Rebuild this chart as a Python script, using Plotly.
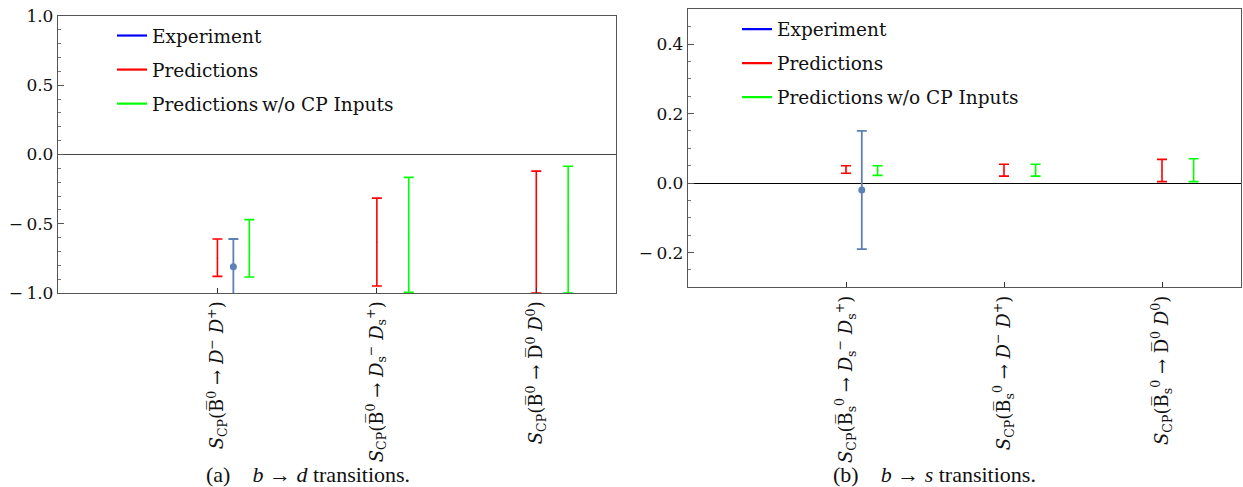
import plotly.graph_objects as go

# ---------------- data ----------------
cats_d = [
    "<i>S</i><sub>CP</sub>(B\u0305<sup>0</sup> \u2192 <i>D</i><sup>\u2212</sup> <i>D</i><sup>+</sup>)",
    "<i>S</i><sub>CP</sub>(B\u0305<sup>0</sup> \u2192 <i>D</i><sub>s</sub><sup>\u2212</sup> <i>D</i><sub>s</sub><sup>+</sup>)",
    "<i>S</i><sub>CP</sub>(B\u0305<sup>0</sup> \u2192 D\u0305<sup>0</sup> <i>D</i><sup>0</sup>)",
]
pred_d_lo = [-0.88, -0.95, -1.00]
pred_d_hi = [-0.61, -0.315, -0.12]
nocp_d_lo = [-0.885, -0.995, -1.00]
nocp_d_hi = [-0.47, -0.165, -0.085]
exp_d_cat = [0]
exp_d_val = [-0.81]
exp_d_err = [0.20]

cats_s = [
    "<i>S</i><sub>CP</sub>(B\u0305<sub>s</sub><sup>0</sup> \u2192 <i>D</i><sub>s</sub><sup>\u2212</sup> <i>D</i><sub>s</sub><sup>+</sup>)",
    "<i>S</i><sub>CP</sub>(B\u0305<sub>s</sub><sup>0</sup> \u2192 <i>D</i><sup>\u2212</sup> <i>D</i><sup>+</sup>)",
    "<i>S</i><sub>CP</sub>(B\u0305<sub>s</sub><sup>0</sup> \u2192 D\u0305<sup>0</sup> <i>D</i><sup>0</sup>)",
]
pred_s_lo = [0.028, 0.020, 0.004]
pred_s_hi = [0.050, 0.054, 0.068]
nocp_s_lo = [0.022, 0.020, 0.004]
nocp_s_hi = [0.050, 0.054, 0.070]
exp_s_cat = [0]
exp_s_val = [-0.02]
exp_s_err = [0.17]

yticks_d = [-1.0, -0.5, 0.0, 0.5, 1.0]
yticktext_d = ["\u2212\u20091.0", "\u2212\u20090.5", "0.0", "0.5", "1.0"]
yticks_s = [-0.2, 0.0, 0.2, 0.4]
yticktext_s = ["\u2212\u20090.2", "0.0", "0.2", "0.4"]

legend_names = ["Experiment", "Predictions", "Predictions\u2009w/o CP Inputs"]
legend_colors = ["#0000FF", "#FF0000", "#00FF00"]

RED = "#FF0000"
GREEN = "#00FF00"
EXPC = "#5E81B5"
FONT = "DejaVu Serif"

fig = go.Figure()


def range_bars(n_cats, lo, hi, offset, color, xa, ya):
    xs = [i + 1 + offset for i in range(n_cats)]
    mid = [(a + b) / 2 for a, b in zip(lo, hi)]
    fig.add_trace(go.Scatter(
        x=xs, y=mid, mode="markers", xaxis=xa, yaxis=ya, showlegend=False,
        marker=dict(size=2, color=color, opacity=0.25),
        error_y=dict(type="data", symmetric=False,
                     array=[h - m for h, m in zip(hi, mid)],
                     arrayminus=[m - l for m, l in zip(mid, lo)],
                     color=color, thickness=1.6, width=5),
        hoverinfo="skip"))


def exp_bars(cat_idx, vals, errs, offset, xa, ya):
    xs = [i + 1 + offset for i in cat_idx]
    fig.add_trace(go.Scatter(
        x=xs, y=vals, mode="markers", xaxis=xa, yaxis=ya, showlegend=False,
        marker=dict(size=7, color=EXPC),
        error_y=dict(type="data", array=errs, color=EXPC, thickness=1.8, width=5),
        hoverinfo="skip"))


# left panel (b -> d)
range_bars(len(cats_d), pred_d_lo, pred_d_hi, 0.0, RED, "x", "y")
exp_bars(exp_d_cat, exp_d_val, exp_d_err, 0.1, "x", "y")
range_bars(len(cats_d), nocp_d_lo, nocp_d_hi, 0.2, GREEN, "x", "y")
# right panel (b -> s)
range_bars(len(cats_s), pred_s_lo, pred_s_hi, 0.0, RED, "x2", "y2")
exp_bars(exp_s_cat, exp_s_val, exp_s_err, 0.1, "x2", "y2")
range_bars(len(cats_s), nocp_s_lo, nocp_s_hi, 0.2, GREEN, "x2", "y2")

# legend entries
for lg, xa, ya in [("legend", "x", "y"), ("legend2", "x2", "y2")]:
    for i, (nm, c) in enumerate(zip(legend_names, legend_colors)):
        fig.add_trace(go.Scatter(x=[None], y=[None], mode="lines", name=nm,
                                 line=dict(color=c, width=2.2), xaxis=xa, yaxis=ya,
                                 legend=lg, legendgroup=f"{lg}{i}"))

W, H = 1243, 487


def px_x(x):
    return x / W


def px_y(y):
    return 1 - y / H


axis_line = "#555555"
common_x = dict(range=[0, 3.5], tickvals=[1, 2, 3], ticks="inside", ticklen=5,
                tickcolor="#333", tickangle=-90, showline=True, mirror=True,
                linecolor=axis_line, linewidth=1.3, showgrid=False, zeroline=False,
                automargin=False,
                tickfont=dict(family=FONT, size=18, color="#111"))
common_y = dict(ticks="inside", ticklen=6, tickcolor="#555", showline=True, mirror=True,
                linecolor=axis_line, linewidth=1.3, showgrid=False, zeroline=True,
                automargin=False,
                tickfont=dict(family=FONT, size=17, color="#111"))

fig.update_layout(
    width=W, height=H, margin=dict(l=0, r=0, t=0, b=0, autoexpand=False),
    paper_bgcolor="white", plot_bgcolor="white",
    xaxis=dict(domain=[px_x(58), px_x(616)], ticktext=cats_d, anchor="y", **common_x),
    yaxis=dict(domain=[px_y(293), px_y(16)], range=[-1, 1], tickvals=yticks_d,
               ticktext=yticktext_d, anchor="x", zerolinecolor="#444", zerolinewidth=1.2,
               minor=dict(dtick=0.1, ticks="inside", ticklen=3, tickcolor="#777"), **common_y),
    xaxis2=dict(domain=[px_x(688), px_x(1241)], ticktext=cats_s, anchor="y2", **common_x),
    yaxis2=dict(domain=[px_y(287.3), px_y(9.3)], range=[-0.3, 0.5], tickvals=yticks_s,
                ticktext=yticktext_s, anchor="x2", zerolinecolor="#000", zerolinewidth=1.2,
                minor=dict(dtick=0.05, ticks="inside", ticklen=3, tickcolor="#777"), **common_y),
    legend=dict(x=px_x(112), y=px_y(17), xanchor="left", yanchor="top",
                font=dict(family=FONT, size=18.5, color="#111"), bgcolor="rgba(0,0,0,0)",
                tracegroupgap=7, itemwidth=30),
    legend2=dict(x=px_x(737), y=px_y(10.5), xanchor="left", yanchor="top",
                 font=dict(family=FONT, size=18.5, color="#111"), bgcolor="rgba(0,0,0,0)",
                 tracegroupgap=7, itemwidth=30),
    annotations=[
        dict(text="(a)&nbsp;&nbsp;&nbsp;&nbsp;<i>b</i> \u2192 <i>d</i> transitions.",
             x=px_x(204), y=px_y(474), xref="paper", yref="paper", xanchor="left",
             yanchor="middle", showarrow=False,
             font=dict(family="Liberation Serif", size=22, color="#111")),
        dict(text="(b)&nbsp;&nbsp;&nbsp;&nbsp;<i>b</i> \u2192 <i>s</i> transitions.",
             x=px_x(831), y=px_y(474), xref="paper", yref="paper", xanchor="left",
             yanchor="middle", showarrow=False,
             font=dict(family="Liberation Serif", size=22, color="#111")),
    ],
)

fig.write_html("out.html", config={"displayModeBar": False},
               post_script="document.body.style.margin='0px';document.body.style.overflow='hidden';")
